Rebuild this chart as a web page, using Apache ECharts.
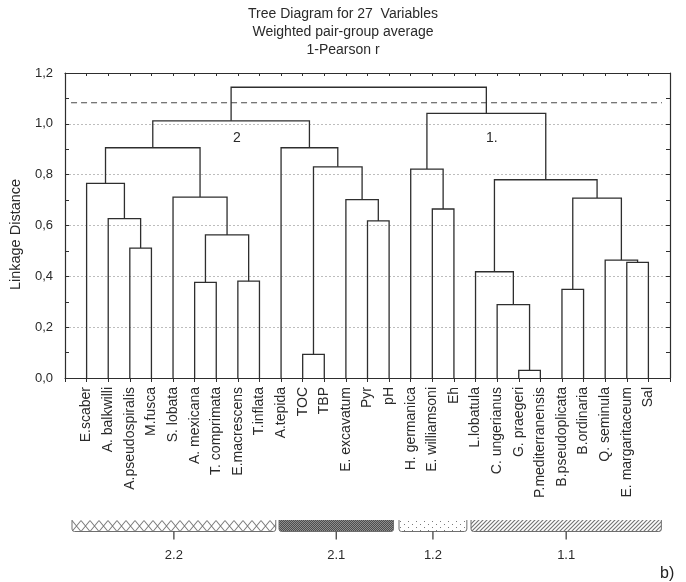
<!DOCTYPE html>
<html>
<head>
<meta charset="utf-8">
<script src="https://cdn.jsdelivr.net/npm/echarts@6/dist/echarts.min.js"></script>
<style>
  html, body { margin: 0; padding: 0; background: #fff; }
  #chart { width: 686px; height: 582px; }
</style>
</head>
<body>
<div id="chart"></div>
<script>
// Variables in dendrogram leaf order
const leaves = [
  'E.scaber', 'A. balkwilli', 'A.pseudospiralis', 'M.fusca', 'S. lobata',
  'A. mexicana', 'T. comprimata', 'E.macrescens', 'T.inflata', 'A.tepida',
  'TOC', 'TBP', 'E. excavatum', 'Pyr', 'pH', 'H. germanica', 'E. williamsoni',
  'Eh', 'L.lobatula', 'C. ungerianus', 'G. praegeri', 'P.mediterranensis',
  'B.pseudoplicata', 'B.ordinaria', 'Q. seminula', 'E. margaritaceum', 'Sal'
];

// Linkage rows [a, b, distance]; indices below 27 are leaves,
// index 27 + k refers to the cluster formed by row k.
const merges = [
  [20, 21, 0.030],  // 27
  [10, 11, 0.093],  // 28
  [19, 27, 0.289],  // 29
  [22, 23, 0.349],  // 30
  [5, 6, 0.376],    // 31
  [7, 8, 0.381],    // 32
  [18, 29, 0.418],  // 33
  [25, 26, 0.455],  // 34
  [24, 34, 0.464],  // 35
  [2, 3, 0.511],    // 36
  [31, 32, 0.563],  // 37
  [13, 14, 0.618],  // 38
  [1, 36, 0.627],   // 39
  [16, 17, 0.665],  // 40
  [12, 38, 0.702],  // 41
  [30, 35, 0.708],  // 42
  [4, 37, 0.712],   // 43
  [0, 39, 0.766],   // 44
  [33, 42, 0.780],  // 45
  [15, 40, 0.822],  // 46
  [28, 41, 0.831],  // 47
  [44, 43, 0.906],  // 48
  [9, 47, 0.906],   // 49
  [46, 45, 1.041],  // 50
  [48, 49, 1.012],  // 51
  [51, 50, 1.144]   // 52
];

// Cut level (dashed) and its extent along the leaf axis
const cutDistance = 1.083;
const cutFrom = 0.28;
const cutTo = 27.63;

// Main cluster tags
const clusterTags = ['2', '1.'];
const clusterTagX = [7.95, 19.75];
const clusterTagY = [0.945, 0.945];

// Sub-cluster groups shown under the leaf labels
const groupNames = ['2.2', '2.1', '1.2', '1.1'];
const groupStart = [0.31, 9.92, 15.45, 18.81];
const groupEnd = [9.74, 15.22, 18.59, 27.62];

const yTickFormat = v => v.toFixed(1).replace('.', ',');

// Leaf positions 1..n, cluster positions at the mean of their two children
const posX = leaves.map((_, i) => i + 1);
const posH = leaves.map(() => 0);
const links = merges.map(([a, b, h]) => {
  const row = [posX[a], posX[b], posH[a], posH[b], h];
  posX.push((posX[a] + posX[b]) / 2);
  posH.push(h);
  return row;
});

const FONT = 'Liberation Sans, Arial, sans-serif';
const INK = '#2e2e2e';

function makePattern(w, h, draw) {
  const c = document.createElement('canvas');
  c.width = w; c.height = h;
  const g = c.getContext('2d');
  draw(g, w, h);
  return { image: c, repeat: 'repeat' };
}

const patterns = [
  // 2.2 – chain of diamonds
  makePattern(9, 12, (g, w, h) => {
    g.fillStyle = '#fff'; g.fillRect(0, 0, w, h);
    g.strokeStyle = '#7e7e7e'; g.lineWidth = 1.1;
    g.beginPath();
    g.moveTo(0, 0.5); g.lineTo(w, h - 0.5);
    g.moveTo(w, 0.5); g.lineTo(0, h - 0.5);
    g.stroke();
  }),
  // 2.1 – dense dark stipple
  makePattern(2, 2, (g) => {
    g.fillStyle = '#8e8e8e'; g.fillRect(0, 0, 2, 2);
    g.fillStyle = '#4e4e4e'; g.fillRect(0, 0, 1, 1); g.fillRect(1, 1, 1, 1);
  }),
  // 1.2 – sparse dots
  makePattern(8, 6, (g) => {
    g.fillStyle = '#fff'; g.fillRect(0, 0, 8, 6);
    g.fillStyle = '#7a7a7a'; g.fillRect(1, 1, 1, 1); g.fillRect(5, 4, 1, 1);
  }),
  // 1.1 – diagonal hatch
  makePattern(4, 4, (g) => {
    g.fillStyle = '#fff'; g.fillRect(0, 0, 4, 4);
    g.strokeStyle = '#767676'; g.lineWidth = 1.2;
    g.beginPath();
    for (let o = -4; o <= 4; o += 4) { g.moveTo(o - 1, 5); g.lineTo(o + 5, -1); }
    g.stroke();
  })
];

const chart = echarts.init(document.getElementById('chart'), null, { renderer: 'canvas' });

chart.setOption({
  animation: false,
  backgroundColor: '#fff',
  textStyle: { fontFamily: FONT },
  title: {
    text: 'Tree Diagram for 27  Variables\nWeighted pair-group average\n1-Pearson r',
    left: 343,
    top: 5,
    padding: 0,
    textAlign: 'center',
    textStyle: { fontSize: 14, fontWeight: 'normal', color: '#2a2a2a', lineHeight: 18, fontFamily: FONT }
  },
  grid: [
    { left: 65, right: 16, top: 73, bottom: 204 },
    { left: 65, right: 16, top: 520, height: 11.5 }
  ],
  xAxis: [
    {
      type: 'value', gridIndex: 0, min: 0, max: 28, interval: 1,
      axisLine: { show: true, onZero: false, lineStyle: { color: INK, width: 1.2 } },
      axisTick: { inside: false, length: 4, lineStyle: { color: INK } },
      splitLine: { show: false },
      axisLabel: {
        rotate: 90, margin: 9, fontSize: 14, color: '#2a2a2a', fontFamily: FONT,
        formatter: v => leaves[v - 1] || ''
      }
    },
    {
      type: 'value', gridIndex: 0, position: 'top', min: 0, max: 28, interval: 1,
      axisLine: { show: true, onZero: false, lineStyle: { color: INK, width: 1.2 } },
      axisTick: { show: true, inside: true, length: 3, lineStyle: { color: INK } },
      axisLabel: { show: false },
      splitLine: { show: false }
    },
    { type: 'value', gridIndex: 1, min: 0, max: 28, show: false }
  ],
  yAxis: [
    {
      type: 'value', gridIndex: 0, min: 0, max: 1.2, interval: 0.2,
      name: 'Linkage Distance', nameLocation: 'middle', nameGap: 42,
      nameTextStyle: { fontSize: 14.5, color: '#2a2a2a', fontFamily: FONT, padding: [0, 18, 0, 0] },
      axisLine: { show: true, onZero: false, lineStyle: { color: INK, width: 1.2 } },
      axisTick: { show: true, inside: true, length: 4, lineStyle: { color: INK } },
      minorTick: { show: true, splitNumber: 2, length: 4, lineStyle: { color: INK } },
      axisLabel: { fontSize: 13, color: '#2a2a2a', margin: 12, fontFamily: FONT, formatter: yTickFormat },
      splitLine: { show: true, lineStyle: { type: [2, 2], color: '#bdbdbd', width: 1 } }
    },
    {
      type: 'value', gridIndex: 0, position: 'right', min: 0, max: 1.2, interval: 0.2,
      axisLine: { show: true, onZero: false, lineStyle: { color: INK, width: 1.2 } },
      axisTick: { show: true, inside: true, length: 4, lineStyle: { color: INK } },
      minorTick: { show: true, splitNumber: 2, length: 4, lineStyle: { color: INK } },
      axisLabel: { show: false },
      splitLine: { show: false }
    },
    { type: 'value', gridIndex: 1, min: 0, max: 1, show: false }
  ],
  series: [
    {
      // cut level
      type: 'line', xAxisIndex: 0, yAxisIndex: 0,
      data: [[cutFrom, cutDistance], [cutTo, cutDistance]],
      symbol: 'none', silent: true,
      lineStyle: { color: '#4a4a4a', width: 1.2, type: [6, 4] },
      z: 2
    },
    {
      // dendrogram links
      type: 'custom', xAxisIndex: 0, yAxisIndex: 0,
      data: links,
      encode: { x: [0, 1], y: [2, 3, 4] },
      renderItem: (params, api) => {
        const xa = api.value(0), xb = api.value(1);
        const ha = api.value(2), hb = api.value(3), h = api.value(4);
        const pts = [api.coord([xa, ha]), api.coord([xa, h]), api.coord([xb, h]), api.coord([xb, hb])];
        return {
          type: 'polyline',
          shape: { points: pts },
          style: { stroke: INK, lineWidth: 1.3, fill: null }
        };
      },
      z: 3
    },
    {
      // main cluster tags
      type: 'custom', xAxisIndex: 0, yAxisIndex: 0,
      data: clusterTags.map((t, i) => [clusterTagX[i], clusterTagY[i], i]),
      renderItem: (params, api) => {
        const p = api.coord([api.value(0), api.value(1)]);
        return {
          type: 'text',
          x: p[0], y: p[1],
          style: {
            text: clusterTags[api.value(2)], fill: '#2a2a2a', fontSize: 14,
            fontFamily: FONT, align: 'center', verticalAlign: 'middle'
          }
        };
      },
      z: 4
    },
    {
      // sub-cluster group bars
      type: 'custom', xAxisIndex: 2, yAxisIndex: 2,
      data: groupNames.map((n, i) => [groupStart[i], groupEnd[i], i]),
      renderItem: (params, api) => {
        const i = api.value(2);
        const tl = api.coord([api.value(0), 1]);
        const br = api.coord([api.value(1), 0]);
        const w = br[0] - tl[0], h = br[1] - tl[1];
        const r = 2.5;
        const cx = w / 2;
        return {
          type: 'group',
          x: Math.round(tl[0]), y: Math.round(tl[1]),
          children: [
            {
              type: 'rect',
              shape: { x: 0, y: 0, width: w, height: h, r: [0, 0, r, r] },
              style: { fill: patterns[i] }
            },
            {
              type: 'path',
              shape: {
                pathData: `M0 0 L0 ${h - r} Q0 ${h} ${r} ${h} L${w - r} ${h} Q${w} ${h} ${w} ${h - r} L${w} 0`
              },
              style: { stroke: '#6e6e6e', lineWidth: 1, fill: null }
            },
            {
              type: 'line',
              shape: { x1: cx, y1: h, x2: cx, y2: h + 8 },
              style: { stroke: '#444', lineWidth: 1.3 }
            },
            {
              type: 'text',
              x: cx, y: h + 23.5,
              style: {
                text: groupNames[i], fill: '#2a2a2a', fontSize: 13,
                fontFamily: FONT, align: 'center', verticalAlign: 'middle'
              }
            }
          ]
        };
      }
    }
  ],
  graphic: [
    {
      type: 'text', left: 660, top: 566,
      style: { text: 'b)', fill: '#222', fontSize: 16, fontFamily: FONT }
    }
  ]
});
</script>
</body>
</html>
